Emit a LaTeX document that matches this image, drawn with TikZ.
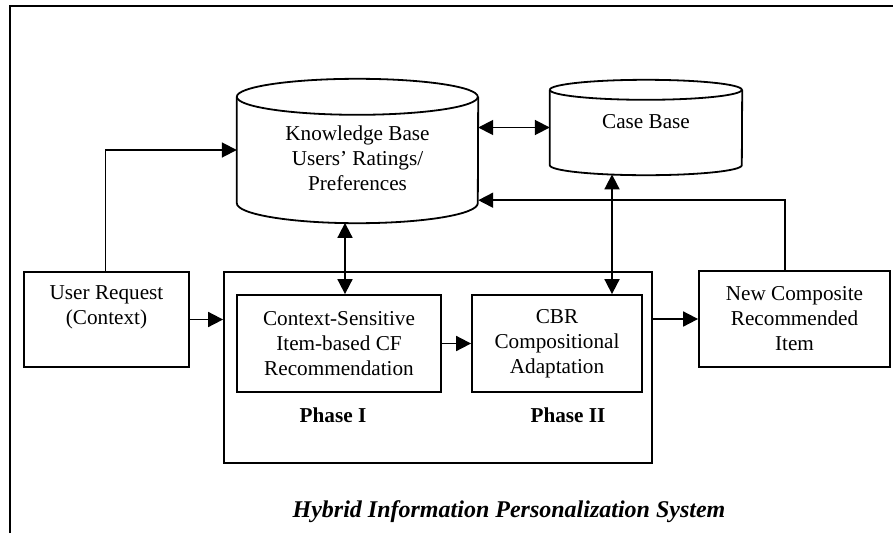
\documentclass[tikz,border=0pt]{standalone}
\usepackage{fontspec}
\setmainfont{Liberation Serif}
\usetikzlibrary{arrows.meta,calc}

\tikzset{
  base/.style={line width=1.8pt},
  box/.style={base, draw, rectangle, inner sep=0pt},
  ghost/.style={rectangle, inner sep=0pt, draw=none},
  txt/.style={align=center, inner sep=0pt, font=\fontsize{21.2}{25}\selectfont},
  phase/.style={inner sep=0pt, font=\fontsize{21.2}{25}\selectfont\bfseries},
  conn/.style={base, -{Triangle[length=15pt,width=15pt]}},
  biconn/.style={base, {Triangle[length=15pt,width=15pt]}-{Triangle[length=15pt,width=15pt]}},
}

\begin{document}
\begin{tikzpicture}[x=1pt,y=-1pt]
\useasboundingbox (0,0) rectangle (893,533);

% outer frame (top and left edges)
\draw[line width=2pt] (10,533) -- (10,6) -- (893,6);

% knowledge base cylinder (body between the two ellipse centres)
\node[ghost, minimum width=241, minimum height=106] (kb) at (357.5,150) {};
\draw[base] (kb.north west) arc[start angle=180, end angle=-180, x radius=120.5, y radius=18];
\draw[base] (kb.north west) -- (kb.south west)
            arc[start angle=180, end angle=0, x radius=120.5, y radius=20]
            -- (kb.north east);
\node[txt] (kbtext) at (357.5,158) {Knowledge Base\\Users’ Ratings/\\Preferences};

% case base cylinder
\node[ghost, minimum width=192, minimum height=75] (cb) at (646,127.5) {};
\draw[base] (cb.north west) arc[start angle=180, end angle=-180, x radius=96, y radius=10];
\draw[base] (cb.north west) -- (cb.south west)
            arc[start angle=180, end angle=0, x radius=96, y radius=10]
            -- (cb.north east);
\node[txt] (cbtext) at (646,122) {Case Base};

% user request
\node[box, minimum width=165, minimum height=95] (ur) at (106.5,319.5) {};
\node[txt] (urtext) at (106.5,307.5) {User Request\\(Context)};

% system frame with its two phases
\node[box, minimum width=428, minimum height=191] (ph) at (438,367.5) {};
\node[box, minimum width=204, minimum height=97, txt] (cs) at (339,343.5)
  {Context-Sensitive\\Item-based CF\\Recommendation};
\node[box, minimum width=170, minimum height=97, txt] (cbr) at (557,343.5)
  {CBR\\Compositional\\Adaptation};
\node[phase] (p1) at (333,415) {Phase I};
\node[phase] (p2) at (568,415) {Phase II};

% new composite item
\node[box, minimum width=191, minimum height=96, txt] (nc) at (794.5,319)
  {New Composite\\Recommended\\Item};

% caption
\node[inner sep=0pt, font=\fontsize{24}{28}\selectfont\bfseries\itshape] (cap) at (509,512)
  {Hybrid Information Personalization System};

% reference points on the cylinder bottoms
\coordinate (kbb) at (345,222.9);
\coordinate (cbb) at (612,174.4);

% connectors
\draw[biconn] (kb.east |- cb.west) -- (cb.west);
\draw[conn] ([xshift=-1pt]ur.north) |- (kb.west);
\draw[conn] (nc.north -| 785,0) |- ([yshift=3pt]kb.south east);
\draw[biconn] (kbb) -- (kbb |- cs.north);
\draw[biconn] (cbb) -- (cbb |- cbr.north);
\draw[conn] (ur.east) -- (ph.west |- ur.east);
\draw[conn] (cs.east) -- (cbr.west |- cs.east);
\draw[conn] (ph.east |- nc.west) -- (nc.west);
\end{tikzpicture}
\end{document}
